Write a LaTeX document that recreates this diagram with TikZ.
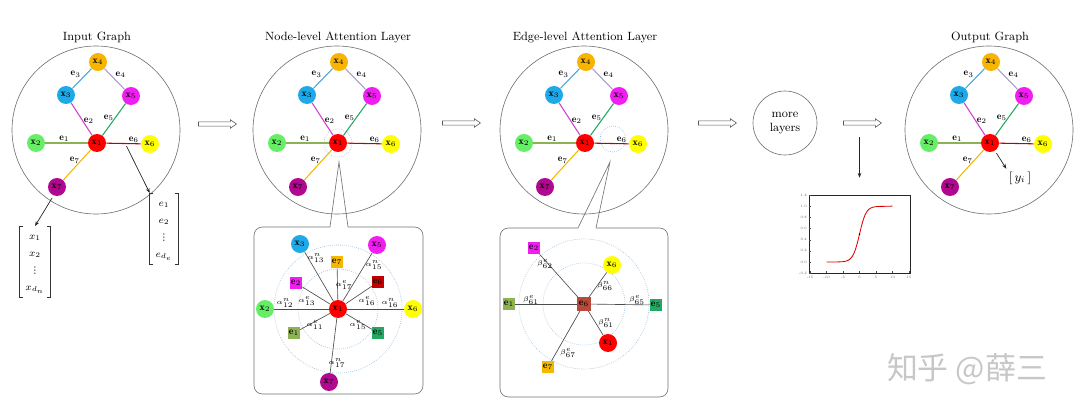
\documentclass[tikz,border=0pt]{standalone}
\usepackage{amsmath}
\usepackage{fontspec}
\newfontfamily\cjkfont{Noto Sans CJK SC}
\newfontfamily\symfont{DejaVu Sans}
\usetikzlibrary{arrows.meta, positioning, shapes.arrows}

\definecolor{cxone}{RGB}{255,0,0}
\definecolor{cxtwo}{RGB}{102,238,102}
\definecolor{cxthree}{RGB}{30,170,232}
\definecolor{cxfour}{RGB}{247,180,0}
\definecolor{cxfive}{RGB}{240,30,240}
\definecolor{cxsix}{RGB}{255,255,0}
\definecolor{cxseven}{RGB}{176,8,142}
\definecolor{ceone}{RGB}{141,178,85}
\definecolor{cetwo}{RGB}{208,64,208}
\definecolor{cethree}{RGB}{77,166,209}
\definecolor{cefour}{RGB}{168,156,200}
\definecolor{cefive}{RGB}{34,168,98}
\definecolor{cesix}{RGB}{192,0,0}
\definecolor{ceseven}{RGB}{245,184,0}
\definecolor{ringblue}{RGB}{150,185,215}
\definecolor{cebox}{RGB}{184,74,58}

\newcommand{\svdots}{\hbox{\symfont\fontsize{6.5}{6.5}\selectfont ⋮}}

\begin{document}
\begin{tikzpicture}[
    x=0.025cm, y=-0.025cm,
    gnode/.style={circle, minimum size=12.8pt, inner sep=0pt, font=\fontsize{7}{8}\selectfont},
    sqnode/.style={rectangle, minimum size=8.5pt, inner sep=0pt, font=\fontsize{7}{8}\selectfont},
    elabel/.style={font=\fontsize{7}{8}\selectfont, inner sep=0.5pt},
    alab/.style={font=\fontsize{5.5}{6}\selectfont, inner sep=0pt},
    title/.style={font=\fontsize{8.5}{10}\selectfont},
    ring/.style={draw=black!55, line width=0.45pt},
    dotring/.style={draw=ringblue, densely dotted, line width=0.45pt},
    spoke/.style={draw=black!70, line width=0.45pt},
    gedge/.style={line width=0.75pt},
    vecnode/.style={font=\fontsize{7}{12}\selectfont\setlength{\arraycolsep}{4pt}, inner xsep=0pt, inner ysep=1pt},
    bracket/.style={draw=black!80, line width=0.45pt},
    bigarrow/.style={single arrow, draw=black!65, line width=0.4pt, minimum height=27pt,
      inner sep=1.25pt, single arrow head extend=1.6pt, single arrow tip angle=70},
    arrow/.style={-{Stealth[length=3.5pt, width=2.6pt]}, black!85, line width=0.5pt},
    ticklab/.style={font=\fontsize{2.5}{3}\selectfont, text=black!60, inner sep=0pt}
  ]
  \useasboundingbox (0,0) rectangle (1080,413);
  \fill[white] (0,0) rectangle (1080,413);

  % the four copies of the graph
  \foreach \g/\cx/\ttl in {in/97/Input Graph, nl/338/Node-level Attention Layer,
      el/585/Edge-level Attention Layer, out/990/Output Graph} {
    \node[title] (\g-title) at (\cx,37) {\ttl};
    \draw[ring] (\cx-1,130) circle[radius=84];
    \node[gnode, fill=cxone] (\g-x1) at (\cx,143) {$\mathbf{x}_1$};
    \node[gnode, fill=cxtwo] (\g-x2) at (\cx-61,143) {$\mathbf{x}_2$};
    \node[gnode, fill=cxthree] (\g-x3) at (\cx-31,95) {$\mathbf{x}_3$};
    \node[gnode, fill=cxfour] (\g-x4) at (\cx+1,62) {$\mathbf{x}_4$};
    \node[gnode, fill=cxfive] (\g-x5) at (\cx+34,96) {$\mathbf{x}_5$};
    \node[gnode, fill=cxsix] (\g-x6) at (\cx+53,144) {$\mathbf{x}_6$};
    \node[gnode, fill=cxseven] (\g-x7) at (\cx-40,187) {$\mathbf{x}_7$};
    \draw[gedge, ceone] (\g-x2) -- node[elabel, above, text=black, pos=0.45] {$\mathbf{e}_1$} (\g-x1);
    \draw[gedge, cetwo] (\g-x3) -- node[elabel, right, text=black, pos=0.55] {$\mathbf{e}_2$} (\g-x1);
    \draw[gedge, cethree] (\g-x3) -- node[elabel, above left, text=black] {$\mathbf{e}_3$} (\g-x4);
    \draw[gedge, cefour] (\g-x4) -- node[elabel, above right, text=black] {$\mathbf{e}_4$} (\g-x5);
    \draw[gedge, cefive] (\g-x5) -- node[elabel, left, text=black, pos=0.45] {$\mathbf{e}_5$} (\g-x1);
    \draw[gedge, cesix] (\g-x1) -- node[elabel, above, text=black, pos=0.8] {$\mathbf{e}_6$}
      coordinate[pos=0.55] (\g-e6c) (\g-x6);
    \draw[gedge, ceseven] (\g-x7) -- node[elabel, left, text=black, pos=0.65] {$\mathbf{e}_7$} (\g-x1);
  }

  % input feature vectors
  \node[vecnode] (vecx) at (35,261.5)
    {$\begin{array}{c} x_1\\ x_2\\ \svdots\\ x_{d_n} \end{array}$};
  \node[vecnode] (vece) at (164,228.5)
    {$\begin{array}{c} e_1\\ e_2\\ \svdots\\ e_{d_e} \end{array}$};
  \foreach \v in {vecx, vece} {
    \draw[bracket] ([xshift=2.5pt]\v.north west) -- (\v.north west) -- (\v.south west)
      -- ([xshift=2.5pt]\v.south west);
    \draw[bracket] ([xshift=-2.5pt]\v.north east) -- (\v.north east) -- (\v.south east)
      -- ([xshift=-2.5pt]\v.south east);
  }
  \draw[arrow, shorten <=2pt] (in-x7.-112) -- (vecx.north);
  \draw[arrow, shorten <=2pt] (in-e6c) -- (vece.north west);

  % hollow arrows between stages
  \node[bigarrow] (a1) at (216,124) {};
  \node[bigarrow] (a2) at (460,123) {};
  \node[bigarrow] (a3) at (716,123) {};
  \node[bigarrow] (a4) at (861,123) {};
  \node[circle, draw=black!55, line width=0.45pt, minimum size=45.5pt, align=center,
    font=\fontsize{8.5}{10}\selectfont] (more) at (785,123) {more\\layers};

  % node-level zoom
  \draw[dotring] (nl-x1) circle[radius=14];
  \coordinate (nl-apex) at (339,162);
  \draw[ring, rounded corners=6pt] (330,227) -| (254,394) -| (423,227) -- (348,227);
  \draw[ring] (330,227) -- (nl-apex) -- (348,227);
  \node[gnode, fill=cxone] (nb-x1) at (338,309) {$\mathbf{x}_1$};
  \draw[dotring] (nb-x1) circle[radius=64];
  \draw[dotring] (nb-x1) circle[radius=40];
  \foreach \n/\dx/\dy/\col in {3/-38/-65/cxthree, 5/39/-64/cxfive, 2/-73/0/cxtwo,
      6/75/0/cxsix, 7/-9/73/cxseven} {
    \node[gnode, fill=\col] (nb-x\n) at (338+\dx,309+\dy) {$\mathbf{x}_\n$};
    \draw[spoke] (nb-x1) -- (nb-x\n);
  }
  \foreach \n/\dx/\dy/\col in {7/-1/-47/ceseven, 2/-42/-26/cxfive, 6/40/-27/cesix,
      1/-44/24/ceone, 5/40/24/cefive} {
    \node[sqnode, fill=\col] (nb-e\n) at (338+\dx,309+\dy) {$\mathbf{e}_\n$};
    \draw[spoke] (nb-x1) -- (nb-e\n);
  }
  \node[alab] (a13n) at (316,258) {$\alpha^n_{13}$};
  \node[alab] (a17e) at (344,285) {$\alpha^e_{17}$};
  \node[alab] (a15n) at (374,265) {$\alpha^n_{15}$};
  \node[alab] (a12n) at (285,303) {$\alpha^n_{12}$};
  \node[alab] (a13e) at (307,301) {$\alpha^e_{13}$};
  \node[alab] (a16e) at (367,301) {$\alpha^e_{16}$};
  \node[alab] (a16n) at (390,303) {$\alpha^n_{16}$};
  \node[alab] (a11e) at (315,325) {$\alpha^e_{11}$};
  \node[alab] (a15e) at (358,325) {$\alpha^e_{15}$};
  \node[alab] (a17n) at (337,363) {$\alpha^n_{17}$};

  % edge-level zoom
  \coordinate (el-zc) at (613,139);
  \draw[dotring] (el-zc) circle[radius=13];
  \coordinate (el-apex) at (610,162);
  \draw[ring, rounded corners=6pt] (578,228) -| (500,397) -| (668,228) -- (596,228);
  \draw[ring] (578,228) -- (el-apex) -- (596,228);
  \node[sqnode, minimum size=9.5pt, fill=cebox] (eb-e6) at (584,304) {$\mathbf{e}_6$};
  \draw[dotring] (eb-e6) circle[radius=65];
  \draw[dotring] (eb-e6) circle[radius=41];
  \foreach \n/\dx/\dy/\col in {2/-50/-56/cxfive, 1/-75/0/ceone, 5/72/1/cefive, 7/-36/63/ceseven} {
    \node[sqnode, fill=\col] (eb-e\n) at (584+\dx,304+\dy) {$\mathbf{e}_\n$};
    \draw[spoke] (eb-e6) -- (eb-e\n);
  }
  \foreach \n/\dx/\dy/\col in {6/28/-39/cxsix, 1/24/39/cxone} {
    \node[gnode, fill=\col] (eb-x\n) at (584+\dx,304+\dy) {$\mathbf{x}_\n$};
    \draw[spoke] (eb-e6) -- (eb-x\n);
  }
  \node[alab] (b62e) at (545,264) {$\beta^e_{62}$};
  \node[alab] (b66n) at (605,286) {$\beta^n_{66}$};
  \node[alab] (b61e) at (531,300) {$\beta^e_{61}$};
  \node[alab] (b65e) at (637,300) {$\beta^e_{65}$};
  \node[alab] (b61n) at (606,323) {$\beta^n_{61}$};
  \node[alab] (b67e) at (568,353) {$\beta^e_{67}$};

  % output and sigmoid
  \node[font=\fontsize{9}{10}\selectfont, inner sep=1pt] (yi) at (1020,178) {$[\,y_i\,]$};
  \draw[arrow, shorten <=2pt, shorten >=1pt] (out-x1) -- (yi.north west);
  \node[draw=black!85, line width=0.5pt, minimum width=71.8pt, minimum height=55.5pt,
    inner sep=0pt] (sigbox) at (859.5,234) {};
  \draw[arrow, shorten <=10pt, shorten >=12pt] (sigbox.north |- a4) -- (sigbox.north);
  \draw[red!85!black, line width=0.6pt] (826.5,262)
    -- plot[domain=-9:9, samples=61] ({859.5+3.3*\x},{262-55.7/(1+exp(-\x))}) -- (892.5,206);
  \fill[black] (859.5,234.2) circle[radius=0.8];
  \foreach \t [count=\i] in {-15,-10,-5,0,5,10,15} {
    \draw[black!70, line width=0.3pt] ({859.5+3.3*\t},273) -- ++(0,-1.5);
    \node[ticklab] (xt\i) at ({859.5+3.3*\t},277) {\t};
  }
  \foreach \v [count=\i] in {-0.2,0.0,0.2,0.4,0.6,0.8,1.0,1.2} {
    \draw[black!70, line width=0.3pt] (809,{262-55.7*\v}) -- ++(1.5,0);
    \node[ticklab, anchor=east] (yt\i) at (807,{262-55.7*\v}) {\v};
  }

  % watermark
  \node[text=black!22, font=\cjkfont\fontsize{22}{22}\selectfont] (wm) at (967,369) {知乎 @薛三};
\end{tikzpicture}
\end{document}
